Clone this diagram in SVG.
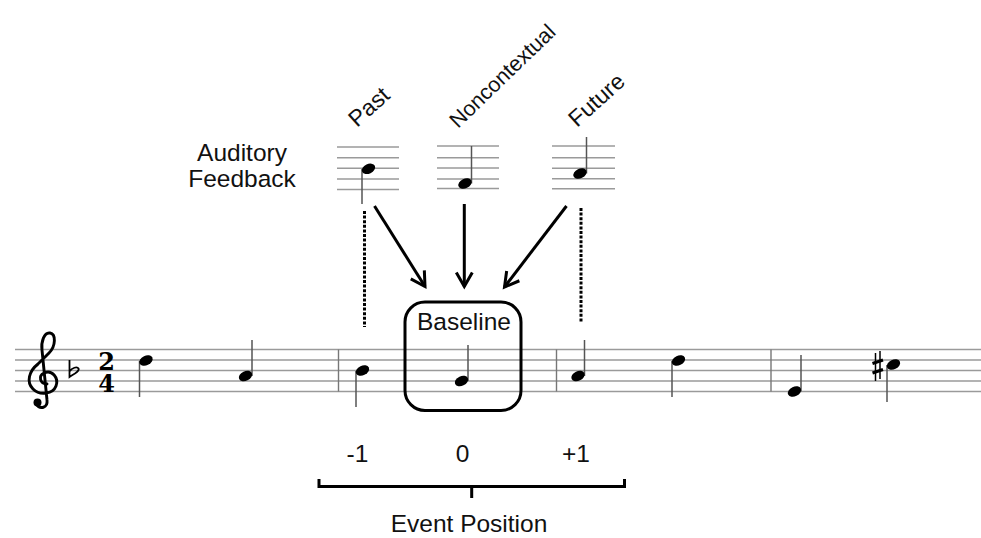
<svg xmlns="http://www.w3.org/2000/svg" width="981" height="538" viewBox="0 0 981 538">
<defs>
<style>
text{font-family:"Liberation Sans",Arial,sans-serif;fill:#111}
.lbl{font-size:24.5px}
.rot{font-size:23px}
.staff line{stroke:#9a9a9a;stroke-width:1.4}
.stem{stroke:#555;stroke-width:1.5}
.bar{stroke:#777;stroke-width:1.4}
.head{fill:#000}
.arrow{stroke:#000;stroke-width:3;fill:none;marker-end:url(#ah)}
.dots{stroke:#000;stroke-width:3;stroke-dasharray:3 1.6;fill:none}
.ts{font-family:"DejaVu Serif","Liberation Serif",serif;font-weight:bold;font-size:24px;fill:#000}
</style>
<marker id="ah" markerUnits="userSpaceOnUse" markerWidth="24" markerHeight="24" viewBox="0 0 24 24" refX="18" refY="12" orient="auto">
<path d="M4,4 L18,12 L4,20" fill="none" stroke="#000" stroke-width="3" stroke-linejoin="miter"/>
</marker>
</defs>
<rect width="981" height="538" fill="#fff"/>

<!-- main staff -->
<g id="main-staff">
<g class="staff">
<line x1="15" y1="349.5" x2="981" y2="349.5"/>
<line x1="15" y1="360" x2="981" y2="360"/>
<line x1="15" y1="370.5" x2="981" y2="370.5"/>
<line x1="15" y1="381" x2="981" y2="381"/>
<line x1="15" y1="391.5" x2="981" y2="391.5"/>
</g>
<!-- treble clef -->
<path d="M47,384 C40,384 38,376 44,373 C52,369 59,378 56,386 C53,394 40,396 33,389 C26,382 29,371 38,364 L49,353 C56,346 56,334 50,333 C44,332 41,342 42,350 L47,400 C48,408 40,410 36,404" fill="none" stroke="#000" stroke-width="2.9" stroke-linecap="round"/>
<circle cx="37.5" cy="402.5" r="4" fill="#000"/>
<!-- flat -->
<path d="M69.5,360 L69.5,377 C74,374 80,371 78.5,368.5 C77,366 72,368 69.5,371.5" fill="none" stroke="#000" stroke-width="1.8"/>
<!-- time signature -->
<text class="ts" text-anchor="middle"><tspan x="106.5" y="369.5">2</tspan><tspan x="106.5" y="391.5">4</tspan></text>
<!-- barlines -->
<line class="bar" x1="338.5" y1="349.5" x2="338.5" y2="391.5"/>
<line class="bar" x1="556.5" y1="349.5" x2="556.5" y2="391.5"/>
<line class="bar" x1="771" y1="349.5" x2="771" y2="391.5"/>
<!-- sharp -->
<g stroke="#000">
<line x1="875.5" y1="353" x2="875.5" y2="381" stroke-width="1.5"/>
<line x1="880" y1="351" x2="880" y2="379" stroke-width="1.5"/>
<line x1="872.5" y1="363.5" x2="883" y2="360" stroke-width="3"/>
<line x1="872.5" y1="373" x2="883" y2="369.5" stroke-width="3"/>
</g>
</g>

<g id="note-1"><line class="stem" x1="139.5" y1="361" x2="139.5" y2="397"/><ellipse class="head" cx="146" cy="360.5" rx="7" ry="4.8" transform="rotate(-25 146 360.5)"/></g>
<g id="note-2"><line class="stem" x1="252" y1="376" x2="252" y2="340"/><ellipse class="head" cx="245.5" cy="376" rx="7" ry="4.8" transform="rotate(-25 245.5 376)"/></g>
<g id="note-past"><line class="stem" x1="356" y1="371" x2="356" y2="407"/><ellipse class="head" cx="362.5" cy="370.5" rx="7" ry="4.8" transform="rotate(-25 362.5 370.5)"/></g>
<g id="note-baseline"><line class="stem" x1="468" y1="381" x2="468" y2="345"/><ellipse class="head" cx="461.5" cy="381" rx="7" ry="4.8" transform="rotate(-25 461.5 381)"/></g>
<g id="note-future"><line class="stem" x1="584.5" y1="376" x2="584.5" y2="340"/><ellipse class="head" cx="578" cy="376" rx="7" ry="4.8" transform="rotate(-25 578 376)"/></g>
<g id="note-6"><line class="stem" x1="672" y1="361" x2="672" y2="397"/><ellipse class="head" cx="678.5" cy="360.5" rx="7" ry="4.8" transform="rotate(-25 678.5 360.5)"/></g>
<g id="note-7"><line class="stem" x1="801" y1="391.5" x2="801" y2="355"/><ellipse class="head" cx="794.5" cy="391.5" rx="7" ry="4.8" transform="rotate(-25 794.5 391.5)"/></g>
<g id="note-8"><line class="stem" x1="887" y1="365" x2="887" y2="402"/><ellipse class="head" cx="893.5" cy="364.5" rx="7" ry="4.8" transform="rotate(-25 893.5 364.5)"/></g>

<!-- baseline box -->
<g id="baseline-box">
<rect x="405" y="302" width="116" height="108.5" rx="20" fill="none" stroke="#000" stroke-width="3"/>
<text class="lbl" x="464" y="329.5" text-anchor="middle">Baseline</text>
</g>

<!-- auditory feedback label -->
<g id="auditory-feedback">
<text class="lbl" x="242" y="161" text-anchor="middle">Auditory</text>
<text class="lbl" x="242" y="187" text-anchor="middle">Feedback</text>
</g>

<!-- feedback staves -->
<g id="fb-past">
<g class="staff">
<line x1="337" y1="147" x2="399" y2="147"/>
<line x1="337" y1="157.7" x2="399" y2="157.7"/>
<line x1="337" y1="168.3" x2="399" y2="168.3"/>
<line x1="337" y1="179" x2="399" y2="179"/>
<line x1="337" y1="189.5" x2="399" y2="189.5"/>
</g>
<line class="stem" x1="362" y1="169" x2="362" y2="204"/>
<ellipse class="head" cx="368.5" cy="168.8" rx="7" ry="4.8" transform="rotate(-25 368.5 168.8)"/>
<text class="rot" x="357" y="128" transform="rotate(-42 357 128)">Past</text>
</g>
<g id="fb-noncontextual">
<g class="staff">
<line x1="437" y1="146" x2="499" y2="146"/>
<line x1="437" y1="157.7" x2="499" y2="157.7"/>
<line x1="437" y1="168" x2="499" y2="168"/>
<line x1="437" y1="179" x2="499" y2="179"/>
<line x1="437" y1="188.5" x2="499" y2="188.5"/>
</g>
<line class="stem" x1="471.5" y1="183.5" x2="471.5" y2="146"/>
<ellipse class="head" cx="465" cy="183.5" rx="7" ry="4.8" transform="rotate(-25 465 183.5)"/>
<text class="rot" x="458" y="129" transform="rotate(-44 458 129)" style="font-size:21.5px">Noncontextual</text>
</g>
<g id="fb-future">
<g class="staff">
<line x1="552" y1="146" x2="615" y2="146"/>
<line x1="552" y1="157.7" x2="615" y2="157.7"/>
<line x1="552" y1="168.3" x2="615" y2="168.3"/>
<line x1="552" y1="178.7" x2="615" y2="178.7"/>
<line x1="552" y1="188.7" x2="615" y2="188.7"/>
</g>
<line class="stem" x1="586.5" y1="173.5" x2="586.5" y2="137"/>
<ellipse class="head" cx="580" cy="173.5" rx="7" ry="4.8" transform="rotate(-25 580 173.5)"/>
<text class="rot" x="577" y="128" transform="rotate(-42 577 128)">Future</text>
</g>

<!-- connectors -->
<g id="connectors">
<line class="arrow" x1="374.5" y1="206" x2="425" y2="286.5"/>
<line class="arrow" x1="464.3" y1="204" x2="464.3" y2="286.5"/>
<line class="arrow" x1="566.5" y1="206" x2="504.5" y2="287"/>
<line class="dots" x1="364.5" y1="211" x2="364.5" y2="327"/>
<line class="dots" x1="581" y1="208" x2="581" y2="323"/>
</g>

<!-- event position axis -->
<g id="event-position">
<text class="lbl" x="357.5" y="461.5" text-anchor="middle">-1</text>
<text class="lbl" x="462.5" y="461.5" text-anchor="middle">0</text>
<text class="lbl" x="576" y="461.5" text-anchor="middle">+1</text>
<path d="M319,479 L319,486.5 L624.5,486.5 L624.5,479 M471.7,486.5 L471.7,498" fill="none" stroke="#000" stroke-width="3"/>
<text class="lbl" x="469" y="531.5" text-anchor="middle">Event Position</text>
</g>
</svg>
